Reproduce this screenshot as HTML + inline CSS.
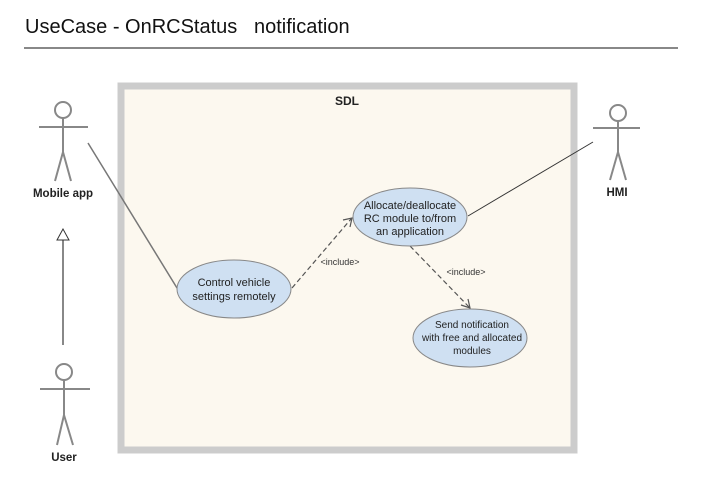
<!DOCTYPE html>
<html><head><meta charset="utf-8"><style>
html,body{margin:0;padding:0;background:#fff;}
svg{display:block;font-family:"Liberation Sans",Arial,sans-serif;}
</style></head><body>
<svg width="702" height="483" viewBox="0 0 702 483">
<text x="25" y="33" font-size="20" fill="#111" style="white-space:pre">UseCase - OnRCStatus   notification</text>
<rect x="24" y="47" width="654" height="2" fill="#888"/>
<rect x="121" y="86" width="453" height="364" fill="#fcf8ef" stroke="#cccccc" stroke-width="7"/>
<text x="347" y="105" font-size="12" font-weight="bold" fill="#222" text-anchor="middle">SDL</text>
<g stroke="#888" stroke-width="2" fill="none">
<circle cx="63" cy="110" r="8"/><line x1="39" y1="127" x2="88" y2="127"/><line x1="63" y1="118" x2="63" y2="152"/><line x1="63" y1="152" x2="55" y2="181"/><line x1="63" y1="152" x2="71" y2="181"/>
<circle cx="618" cy="113" r="8"/><line x1="593" y1="128" x2="640" y2="128"/><line x1="618" y1="121" x2="618" y2="152"/><line x1="618" y1="152" x2="610" y2="180"/><line x1="618" y1="152" x2="626" y2="180"/>
<circle cx="64" cy="372" r="8"/><line x1="40" y1="389" x2="90" y2="389"/><line x1="64" y1="380" x2="64" y2="415"/><line x1="64" y1="415" x2="57" y2="445"/><line x1="64" y1="415" x2="73" y2="445"/>
<line x1="63" y1="345" x2="63" y2="240"/>
</g>
<polygon points="63,229 57,240 69,240" fill="#fff" stroke="#333" stroke-width="1"/>
<g font-size="11.5" font-weight="bold" fill="#222" text-anchor="middle">
<text x="63" y="197">Mobile app</text><text x="617" y="196">HMI</text><text x="64" y="461">User</text></g>
<line x1="88" y1="143" x2="177" y2="288" stroke="#777" stroke-width="1.5"/>
<line x1="593" y1="142" x2="468" y2="216" stroke="#333" stroke-width="1"/>
<g stroke="#555" stroke-width="1.2" fill="none">
<line x1="292" y1="288" x2="351" y2="219" stroke-dasharray="5,3"/>
<polyline points="343,220 352,218 350,227"/>
<line x1="410" y1="246" x2="469" y2="307" stroke-dasharray="5,3"/>
<polyline points="461,305 470,308 468,299"/>
</g>
<g font-size="9" fill="#333" text-anchor="middle"><text x="340" y="265">&lt;include&gt;</text><text x="466" y="275">&lt;include&gt;</text></g>
<g fill="#cfe0f2" stroke="#888" stroke-width="1">
<ellipse cx="234" cy="289" rx="57" ry="29"/><ellipse cx="410" cy="217" rx="57" ry="29"/><ellipse cx="470" cy="338" rx="57" ry="29"/></g>
<g font-size="11" fill="#222" text-anchor="middle">
<text x="234" y="286">Control vehicle</text><text x="234" y="300">settings remotely</text>
<text x="410" y="209">Allocate/deallocate</text><text x="410" y="222">RC module to/from</text><text x="410" y="235">an application</text>
<text x="472" y="328" font-size="10">Send notification</text><text x="472" y="341" font-size="10">with free and allocated</text><text x="472" y="354" font-size="10">modules</text>
</g>
</svg>
</body></html>
